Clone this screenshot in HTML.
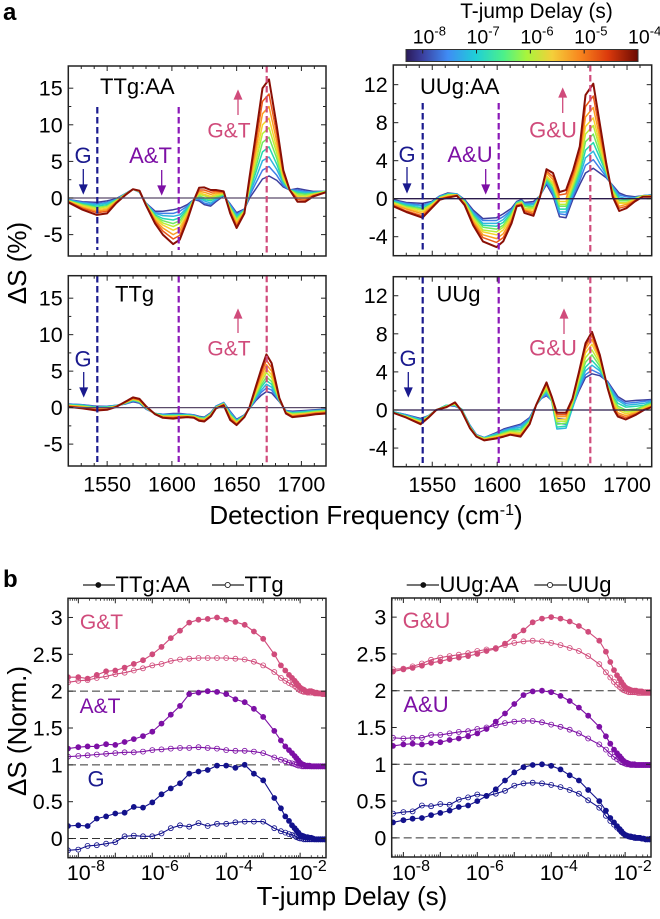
<!DOCTYPE html>
<html lang="en">
<head>
<meta charset="utf-8">
<title>T-jump spectra and kinetics</title>
<style>
html,body{margin:0;padding:0;background:#fff;}
svg{display:block;font-family:"Liberation Sans",Arial,sans-serif;}
</style>
</head>
<body>
<svg id="fig" xmlns="http://www.w3.org/2000/svg" width="660" height="919" viewBox="0 0 660 919">
<defs>
<linearGradient id="turbo" x1="0" x2="1" y1="0" y2="0">
<stop offset="0" stop-color="#2a1a58"/><stop offset="0.07" stop-color="#3b3f9e"/><stop offset="0.18" stop-color="#3f8cf5"/><stop offset="0.3" stop-color="#1fcfd8"/><stop offset="0.42" stop-color="#4cf08a"/><stop offset="0.52" stop-color="#a8f53c"/><stop offset="0.63" stop-color="#f4cf3a"/><stop offset="0.75" stop-color="#f8861e"/><stop offset="0.87" stop-color="#dc3a0c"/><stop offset="1" stop-color="#6a0a02"/>
</linearGradient>
</defs>
<text x="3" y="20" font-size="24" font-weight="bold">a</text>
<text x="3" y="587" font-size="24" font-weight="bold">b</text>
<text x="536.5" y="18" font-size="20.8" text-anchor="middle">T-jump Delay (s)</text>
<rect x="406" y="49.5" width="232" height="12" fill="url(#turbo)" stroke="#333" stroke-width="1"/>
<g id="colorbar-labels"></g>
<text transform="translate(26,263) rotate(-90)" font-size="26" text-anchor="middle">ΔS (%)</text>
<text x="366" y="524" font-size="26" text-anchor="middle">Detection Frequency (cm<tspan font-size="16" dy="-9">-1</tspan><tspan dy="9">)</tspan></text>
<text transform="translate(26,731) rotate(-90)" font-size="26" text-anchor="middle">ΔS (Norm.)</text>
<text x="352" y="905" font-size="26" text-anchor="middle">T-jump Delay (s)</text>
<g id="plots"></g>
<g font-size="22">
<text x="100" y="94">TTg:AA</text>
<text x="83" y="163" fill="#1a1a8e" text-anchor="middle">G</text>
<text x="150.5" y="163" fill="#7d10a5" text-anchor="middle">A&amp;T</text>
<text x="229" y="137.5" fill="#d04b7b" text-anchor="middle" font-size="21">G&amp;T</text>
<text x="420" y="94">UUg:AA</text>
<text x="407" y="162" fill="#1a1a8e" text-anchor="middle">G</text>
<text x="470" y="162" fill="#7d10a5" text-anchor="middle">A&amp;U</text>
<text x="553" y="137.5" fill="#d04b7b" text-anchor="middle">G&amp;U</text>
<text x="115" y="301.5">TTg</text>
<text x="83" y="366.5" fill="#1a1a8e" text-anchor="middle">G</text>
<text x="229" y="355.5" fill="#d04b7b" text-anchor="middle" font-size="21">G&amp;T</text>
<text x="436.5" y="301.5">UUg</text>
<text x="408" y="366" fill="#1a1a8e" text-anchor="middle">G</text>
<text x="553" y="355.5" fill="#d04b7b" text-anchor="middle">G&amp;U</text>
<text x="101.5" y="629" fill="#d04b7b" text-anchor="middle" font-size="21">G&amp;T</text>
<text x="100" y="713" fill="#7d10a5" text-anchor="middle" font-size="21">A&amp;T</text>
<text x="96" y="786.5" fill="#1a1a8e" text-anchor="middle">G</text>
<text x="426.5" y="628" fill="#d04b7b" text-anchor="middle">G&amp;U</text>
<text x="426" y="712" fill="#7d10a5" text-anchor="middle">A&amp;U</text>
<text x="420" y="786.5" fill="#1a1a8e" text-anchor="middle">G</text>
</g>
<g fill="none" stroke-width="1.3">
<g stroke="#1a1a8e"><path d="M83.3 169V189"/><path d="M79.8 185L83.3 193L86.8 185Z" fill="#1a1a8e"/></g>
<g stroke="#7d10a5"><path d="M161.7 170V190"/><path d="M158.2 186L161.7 194L165.2 186Z" fill="#7d10a5"/></g>
<g stroke="#d04b7b"><path d="M238 115V95"/><path d="M234.5 99L238 91L241.5 99Z" fill="#d04b7b"/></g>
<g stroke="#1a1a8e"><path d="M407 167V188"/><path d="M403.5 184L407 192L410.5 184Z" fill="#1a1a8e"/></g>
<g stroke="#7d10a5"><path d="M485.7 169V189"/><path d="M482.2 185L485.7 193L489.2 185Z" fill="#7d10a5"/></g>
<g stroke="#d04b7b"><path d="M562.7 113V93"/><path d="M559.2 97L562.7 89L566.2 97Z" fill="#d04b7b"/></g>
<g stroke="#1a1a8e"><path d="M83.7 372V392"/><path d="M80.2 388L83.7 396L87.2 388Z" fill="#1a1a8e"/></g>
<g stroke="#d04b7b"><path d="M238 333V314"/><path d="M234.5 318L238 310L241.5 318Z" fill="#d04b7b"/></g>
<g stroke="#1a1a8e"><path d="M408.3 372V392"/><path d="M404.8 388L408.3 396L411.8 388Z" fill="#1a1a8e"/></g>
<g stroke="#d04b7b"><path d="M564 334V314"/><path d="M560.5 318L564 310L567.5 318Z" fill="#d04b7b"/></g>
</g>
<g font-size="22">
<g><path d="M83 585H115" stroke="#222" stroke-width="1.2"/><circle cx="98.3" cy="585" r="2.9" fill="#111"/><text x="115.5" y="592">TTg:AA</text></g>
<g><path d="M212 585H244" stroke="#222" stroke-width="1.2"/><circle cx="227.7" cy="585" r="2.6" fill="#fff" stroke="#222" stroke-width="0.9"/><text x="244.5" y="592">TTg</text></g>
</g>
<g font-size="22">
<g><path d="M406.7 585H439" stroke="#222" stroke-width="1.2"/><circle cx="423.3" cy="585" r="2.9" fill="#111"/><text x="439.5" y="592">UUg:AA</text></g>
<g><path d="M534.3 585H567" stroke="#222" stroke-width="1.2"/><circle cx="550" cy="585" r="2.6" fill="#fff" stroke="#222" stroke-width="0.9"/><text x="567.5" y="592">UUg</text></g>
</g>
</svg>
<script>
// ---------- T-jump delay colours for the spectra, early to late ----------
const delayColors = ["#3c3f9e","#3f7fe8","#2fb5e0","#25d8b0","#6fe860","#b8ee38","#f5d22e","#fa9d22","#ec5a18","#8a0f05"];

// ---------- Spectra: TTg:AA ----------
const freqTTgAA = [1520,1531,1542,1550,1557,1564,1570,1575,1580,1587,1593,1601,1606,1612,1617,1621,1625,1630,1634,1640,1645,1650,1656,1660,1665,1670,1675,1681,1686,1691,1697,1703,1709,1719];
const spectraTTgAA = [
[-.2,-.5,-.6,-.4,-.1,.6,1.2,.8,-.7,-1.8,-1.8,-1.6,-1.4,-.9,-.2,-.4,-.9,-1.1,-.5,.3,-.8,-2,-1.5,0,1.3,2.6,3,2.4,1.5,1.1,1.3,1.1,.9,.9],
[-.2,-.6,-.8,-.6,-.2,.6,1.2,.8,-.7,-2,-2.1,-2.1,-1.8,-1.1,-.2,-.2,-.7,-.9,-.3,.4,-.9,-2.2,-1.6,.3,2.1,3.8,4.3,3.1,1.7,1.1,1.1,.9,.8,.9],
[-.3,-.7,-.9,-.7,-.2,.6,1.2,.8,-.8,-2.1,-2.4,-2.5,-2.3,-1.3,-.2,0,-.4,-.7,-.2,.4,-1.1,-2.4,-1.6,.6,2.8,5.1,5.6,3.9,2,1.1,.9,.8,.8,.9],
[-.3,-.8,-1.1,-.9,-.3,.5,1.2,.9,-.8,-2.3,-2.8,-3,-2.7,-1.5,-.2,.1,-.2,-.4,0,.5,-1.2,-2.6,-1.7,.9,3.6,6.3,7,4.6,2.2,1.1,.8,.6,.7,.9],
[-.4,-.9,-1.3,-1.1,-.3,.5,1.2,.9,-.8,-2.5,-3.1,-3.5,-3.1,-1.7,-.2,.3,0,-.2,.1,.5,-1.3,-2.8,-1.7,1.2,4.3,7.6,8.3,5.4,2.4,1.1,.6,.5,.6,.9],
[-.4,-1,-1.4,-1.2,-.4,.5,1.2,.9,-.8,-2.6,-3.4,-3.9,-3.5,-1.9,-.2,.5,.3,0,.3,.6,-1.4,-3,-1.8,1.4,5.1,8.8,9.6,6.1,2.6,1.1,.4,.3,.5,.9],
[-.4,-1.1,-1.6,-1.4,-.5,.5,1.2,.9,-.9,-2.8,-3.7,-4.4,-4,-2.2,-.2,.7,.5,.2,.5,.7,-1.6,-3.3,-1.9,1.7,5.9,10,10.9,6.8,2.9,1.1,.2,.1,.5,.8],
[-.5,-1.3,-1.8,-1.6,-.5,.5,1.2,.9,-.9,-3,-4.1,-5,-4.5,-2.4,-.3,.9,.8,.5,.7,.7,-1.7,-3.5,-1.9,2.1,6.8,11.5,12.5,7.7,3.2,1.1,0,-.1,.4,.8],
[-.5,-1.4,-2,-1.8,-.6,.4,1.2,1,-1,-3.2,-4.5,-5.6,-5.1,-2.7,-.3,1.1,1.1,.8,.9,.8,-1.9,-3.8,-2,2.5,7.8,13.2,14.2,8.7,3.5,1.1,-.2,-.3,.3,.8],
[-.6,-1.6,-2.3,-2.1,-.7,.4,1.2,1,-1,-3.5,-5,-6.3,-5.7,-3,-.3,1.4,1.45,1.1,1.1,.9,-2.1,-4.1,-2.1,2.9,8.9,15,16.2,9.8,3.8,1.1,-.5,-.5,.2,.8]
];

// ---------- Spectra: UUg:AA ----------
const freqUUgAA = [1520,1530,1542.5,1549.5,1556,1562,1569,1575,1581.5,1589,1599.5,1604.6,1611,1615,1618.7,1621,1628,1633,1638,1643,1648,1653,1658.5,1663.6,1668,1674,1679,1684,1689,1694,1699.5,1706,1712,1719];
const spectraUUgAA = [
[-.1,-.4,-.5,-.3,.3,.6,.5,-.1,-1.2,-2.1,-2,-1.6,-1,-.3,-.1,-.4,-.3,.3,1.5,.3,-1.9,-2,0,1.5,2.7,3.2,2.7,2.2,1.4,.6,.3,.2,.3,.4],
[-.2,-.5,-.7,-.4,.3,.5,.5,-.2,-1.4,-2.3,-2.3,-1.9,-1.2,-.4,-.2,-.5,-.5,.3,1.7,.5,-1.6,-1.7,.3,1.9,3.5,4.1,3.2,2.3,1.3,.4,.2,.1,.3,.4],
[-.2,-.6,-.8,-.4,.2,.5,.5,-.2,-1.5,-2.6,-2.6,-2.2,-1.3,-.4,-.2,-.6,-.6,.3,1.8,.8,-1.4,-1.4,.6,2.3,4.3,5,3.7,2.5,1.2,.2,0,.1,.3,.4],
[-.3,-.7,-1,-.5,.2,.5,.4,-.3,-1.7,-2.8,-2.9,-2.5,-1.5,-.4,-.3,-.7,-.8,.3,2,1,-1.1,-1.1,.9,2.7,5.1,5.9,4.3,2.7,1,0,-.1,0,.3,.3],
[-.4,-.8,-1.1,-.6,.1,.4,.4,-.3,-1.8,-3,-3.2,-2.8,-1.6,-.5,-.3,-.8,-.9,.3,2.1,1.3,-.8,-.8,1.2,3.1,6,6.8,4.8,2.8,.9,-.2,-.2,0,.3,.3],
[-.4,-.9,-1.2,-.6,.1,.4,.4,-.4,-2,-3.3,-3.5,-3,-1.8,-.6,-.4,-1,-1,.3,2.3,1.5,-.6,-.6,1.5,3.5,6.8,7.7,5.3,3,.8,-.4,-.4,0,.3,.3],
[-.5,-1,-1.4,-.7,.1,.3,.4,-.5,-2.2,-3.5,-3.8,-3.3,-2,-.6,-.5,-1.1,-1.2,.2,2.4,1.7,-.3,-.3,1.8,3.9,7.6,8.5,5.8,3.1,.6,-.5,-.5,-.1,.2,.3],
[-.6,-1.1,-1.6,-.8,0,.2,.4,-.5,-2.4,-3.8,-4.2,-3.7,-2.2,-.7,-.5,-1.2,-1.4,.2,2.7,2,0,0,2.2,4.4,8.6,9.6,6.4,3.3,.5,-.8,-.6,-.2,.2,.3],
[-.7,-1.3,-1.8,-.9,0,.2,.3,-.6,-2.6,-4.1,-4.6,-4.1,-2.4,-.7,-.6,-1.3,-1.6,.2,2.9,2.3,.4,.5,2.6,4.9,9.7,10.8,7.1,3.5,.3,-1,-.8,-.2,.2,.2],
[-.8,-1.4,-2,-1,-.1,.1,.3,-.7,-2.8,-4.5,-5.1,-4.5,-2.6,-.8,-.7,-1.5,-1.8,.2,3.1,2.7,.7,.9,3,5.5,10.9,12.1,7.9,3.7,.2,-1.3,-1,-.3,.2,.2]
];

// ---------- Spectra: TTg ----------
const freqTTg = [1520,1531,1542,1550,1557,1564,1570,1575,1580,1587,1593,1601,1606,1612,1617,1621,1625,1630,1634,1640,1645,1650,1656,1660,1665,1669,1673,1677,1683,1688,1693,1703,1711,1719];
const spectraTTg = [
[.5,.4,.2,.2,.3,.5,.8,.6,-.2,-.8,-.9,-.8,-.8,-.9,-1,-1.2,-1.3,-.7,.2,.7,-.5,-1.6,-1,-.1,1,1.7,2.2,2,.8,-.4,-.5,-.4,-.3,-.2],
[.5,.4,.1,.2,.3,.5,.9,.7,-.2,-.8,-.9,-.9,-.9,-.9,-1,-1.3,-1.4,-.8,.2,.7,-.6,-1.7,-1,-.1,1.2,2.1,2.7,2.4,.9,-.4,-.6,-.5,-.4,-.3],
[.4,.3,.1,.1,.3,.6,1,.8,-.1,-.8,-1,-1,-1,-1,-1.1,-1.3,-1.4,-.8,.1,.6,-.7,-1.8,-1.1,-.1,1.4,2.4,3.2,2.8,.9,-.5,-.7,-.5,-.4,-.3],
[.4,.3,0,.1,.2,.6,1,.8,-.1,-.8,-1.1,-1,-1,-1,-1.1,-1.4,-1.5,-.9,.1,.6,-.9,-1.8,-1.1,-.1,1.6,2.8,3.7,3.2,1,-.5,-.7,-.6,-.5,-.4],
[.3,.2,0,0,.2,.6,1.1,.8,0,-.8,-1.1,-1.1,-1.1,-1.1,-1.2,-1.4,-1.5,-.9,0,.5,-1,-1.9,-1.1,0,1.8,3.1,4.2,3.6,1,-.6,-.8,-.7,-.5,-.4],
[.3,.2,-.1,0,.2,.7,1.1,.9,0,-.9,-1.2,-1.2,-1.1,-1.1,-1.2,-1.5,-1.6,-1,0,.5,-1.1,-2,-1.2,0,2,3.5,4.8,4.1,1.1,-.6,-.9,-.8,-.6,-.5],
[.3,.1,-.1,-.1,.2,.7,1.2,1,0,-.9,-1.2,-1.2,-1.2,-1.2,-1.2,-1.6,-1.7,-1,0,.5,-1.2,-2.1,-1.2,0,2.2,3.9,5.3,4.5,1.1,-.6,-1,-.8,-.7,-.6],
[.2,.1,-.2,-.2,.2,.7,1.2,1,.1,-.9,-1.3,-1.3,-1.2,-1.2,-1.3,-1.6,-1.7,-1.1,-.1,.4,-1.3,-2.2,-1.2,0,2.5,4.3,5.9,5,1.2,-.7,-1.1,-.9,-.7,-.6],
[.2,0,-.3,-.2,.1,.8,1.3,1.1,.1,-.9,-1.3,-1.4,-1.3,-1.3,-1.4,-1.7,-1.8,-1.1,-.1,.4,-1.5,-2.3,-1.3,.1,2.7,4.8,6.5,5.5,1.2,-.7,-1.2,-1,-.8,-.7],
[.1,-.1,-.4,-.3,.1,.8,1.4,1.2,.2,-.9,-1.4,-1.5,-1.4,-1.3,-1.4,-1.8,-1.9,-1.2,-.1,.3,-1.7,-2.4,-1.3,.1,3,5.3,7.3,6.1,1.3,-.8,-1.3,-1.1,-.9,-.8]
];

// ---------- Spectra: UUg ----------
const freqUUg = [1520,1530,1541,1547,1553,1561,1567.5,1572.5,1579,1584,1590,1599,1605,1610,1618,1625,1630,1634,1638,1642,1646,1653,1658,1663,1668,1673,1679,1685,1690,1693,1699,1707,1713,1719];
const spectraUUg = [
[-.2,-.5,-.9,-.6,0,.5,.4,.1,-1.6,-2.6,-2.9,-2.4,-2,-1.8,-1.5,-.8,.5,1.2,1.5,1,-.9,-1,.3,2,3.4,3.8,3.6,3,2,1.4,.9,1,1.05,1.1],
[-.2,-.5,-1,-.6,0,.5,.4,.1,-1.6,-2.6,-2.9,-2.5,-2.1,-1.9,-1.6,-.9,.5,1.2,1.6,1,-1.4,-1.5,.2,2.2,3.7,4.2,3.8,2.9,1.8,1.2,.7,.8,.9,1],
[-.2,-.6,-1,-.6,0,.5,.5,.1,-1.7,-2.7,-2.9,-2.5,-2.2,-2,-1.8,-1,.5,1.3,1.8,.9,-2,-1.9,.2,2.4,4.1,4.7,4.1,2.8,1.6,1,.5,.6,.7,.9],
[-.2,-.6,-1.1,-.7,0,.5,.5,.1,-1.7,-2.7,-3,-2.6,-2.3,-2.1,-2,-1.1,.5,1.4,2,1,-1.8,-1.7,.4,2.7,4.5,5.2,4.3,2.7,1.3,.7,.3,.4,.5,.8],
[-.3,-.7,-1.2,-.7,0,.4,.6,0,-1.8,-2.7,-3,-2.7,-2.4,-2.2,-2.2,-1.2,.5,1.4,2.1,1,-1.5,-1.4,.6,3,5,5.8,4.6,2.6,1.1,.4,0,.1,.4,.7],
[-.3,-.7,-1.2,-.7,0,.4,.6,0,-1.8,-2.7,-3,-2.8,-2.5,-2.3,-2.4,-1.3,.5,1.5,2.3,1.2,-1.2,-1.2,.8,3.2,5.5,6.3,4.9,2.5,.8,.2,-.2,-.1,.3,.6],
[-.3,-.7,-1.3,-.7,0,.4,.7,0,-1.8,-2.8,-3.1,-2.8,-2.6,-2.4,-2.5,-1.4,.5,1.6,2.5,1.2,-1,-1,.9,3.5,6,6.9,5.2,2.4,.6,0,-.4,-.2,.2,.5],
[-.3,-.8,-1.4,-.8,0,.3,.7,0,-1.9,-2.8,-3.1,-2.9,-2.7,-2.5,-2.6,-1.4,.5,1.6,2.6,1.3,-.7,-.7,1,3.7,6.4,7.4,5.4,2.4,.4,-.3,-.6,-.3,.1,.4],
[-.3,-.8,-1.4,-.8,0,.3,.8,-.1,-1.9,-2.8,-3.2,-3,-2.8,-2.6,-2.7,-1.5,.5,1.7,2.8,1.4,-.5,-.5,1.1,3.8,6.7,7.8,5.6,2.3,.2,-.5,-.8,-.4,0,.3],
[-.3,-.8,-1.5,-.8,0,.3,.8,-.1,-1.9,-2.8,-3.2,-3,-2.8,-2.6,-2.8,-1.5,.5,1.7,2.9,1.4,-.3,-.3,1.2,4,7,8.2,5.8,2.3,0,-.7,-1,-.5,0,.3]
];

// ---------- Kinetics: log10(delay / s), shared by all traces ----------
const logDelay = [-8.28,-8,-7.75,-7.5,-7.25,-7,-6.75,-6.5,-6.25,-6,-5.75,-5.5,-5.25,-5,-4.75,-4.5,-4.25,-4,-3.75,-3.5,-3.25,-3,-2.7,-2.52,-2.4,-2.3,-2.22,-2.15,-2.1,-2.05,-2,-1.95,-1.9,-1.85,-1.8,-1.75,-1.7,-1.65,-1.6,-1.55,-1.5,-1.45,-1.4,-1.35,-1.3];

const ttgAA_GT = [2.19,2.19,2.17,2.22,2.27,2.28,2.32,2.37,2.42,2.5,2.6,2.72,2.82,2.93,2.97,2.98,3,2.97,2.94,2.9,2.81,2.71,2.5,2.35,2.28,2.22,2.18,2.14,2.11,2.08,2.05,2.03,2.02,2,1.99,2,2,1.99,1.98,1.98,1.97,1.97,1.96,1.96,1.96];
const ttg_GT = [2.12,2.14,2.15,2.18,2.2,2.23,2.25,2.28,2.31,2.35,2.37,2.41,2.43,2.44,2.45,2.45,2.45,2.45,2.44,2.43,2.4,2.35,2.26,2.18,2.14,2.11,2.09,2.07,2.05,2.03,2.01,2,1.99,1.99,1.98,1.98,1.98,1.98,1.97,1.97,1.97,1.97,1.97,1.97,1.97];
const ttgAA_AT = [1.22,1.24,1.25,1.25,1.28,1.27,1.31,1.35,1.39,1.45,1.56,1.68,1.8,1.96,1.98,2,1.99,1.96,1.89,1.85,1.76,1.65,1.46,1.33,1.25,1.2,1.16,1.12,1.09,1.06,1.03,1.01,1,.99,.99,.99,.98,.98,.98,.98,.98,.98,.98,.98,.98];
const ttg_AT = [1.11,1.12,1.13,1.14,1.15,1.16,1.17,1.17,1.18,1.2,1.21,1.22,1.23,1.23,1.24,1.23,1.22,1.2,1.19,1.19,1.18,1.16,1.1,1.07,1.05,1.03,1.02,1.01,1,.99,.99,.98,.98,.98,.98,.98,.98,.98,.98,.98,.98,.98,.98,.98,.98];
const ttgAA_G = [.17,.18,.17,.27,.3,.34,.35,.43,.42,.49,.6,.68,.75,.88,.91,.93,.99,.99,.96,1,.88,.79,.55,.41,.3,.24,.18,.14,.11,.08,.05,.04,.03,.02,.02,.01,.01,0,-.01,-.01,-.01,-.01,-.01,-.01,-.01];
const ttg_G = [-.16,-.15,-.1,-.09,-.07,-.05,.03,.04,.03,.03,.07,.14,.18,.16,.21,.17,.2,.2,.22,.23,.23,.23,.14,.1,.08,.06,.05,.04,.02,.01,0,0,-.01,-.01,-.01,-.01,-.01,-.01,-.01,-.01,-.01,-.01,-.01,-.01,-.01];

const uugAA_GU = [2.26,2.29,2.31,2.34,2.38,2.4,2.43,2.45,2.47,2.5,2.54,2.57,2.64,2.74,2.82,2.93,2.98,3,2.98,2.94,2.88,2.8,2.68,2.53,2.39,2.28,2.21,2.16,2.12,2.08,2.05,2.03,2.02,2.01,2,2,2,1.99,1.99,1.99,1.98,1.98,1.98,1.98,1.98];
const uug_GU = [2.29,2.3,2.33,2.37,2.42,2.45,2.47,2.49,2.51,2.54,2.56,2.58,2.62,2.65,2.67,2.68,2.67,2.65,2.62,2.58,2.54,2.47,2.36,2.25,2.18,2.12,2.08,2.05,2.03,2.01,2,1.99,1.98,1.98,1.98,1.98,1.98,1.97,1.97,1.97,1.97,1.97,1.97,1.97,1.97];
const uugAA_AU = [1.25,1.27,1.28,1.27,1.29,1.3,1.33,1.35,1.38,1.42,1.48,1.58,1.69,1.82,1.94,1.99,2,1.98,1.93,1.86,1.77,1.66,1.51,1.38,1.28,1.2,1.15,1.11,1.08,1.05,1.03,1.02,1.01,1,1,1,.99,.99,.99,.99,.99,.99,.99,.99,.99];
const uug_AU = [1.36,1.35,1.36,1.36,1.4,1.4,1.42,1.44,1.45,1.48,1.5,1.53,1.56,1.58,1.59,1.59,1.57,1.54,1.51,1.47,1.42,1.35,1.27,1.2,1.14,1.1,1.07,1.05,1.03,1.02,1.01,1,1,.99,.99,.99,.99,.99,.99,.99,.99,.99,.99,.99,.99];
const uugAA_G = [.21,.24,.26,.27,.31,.34,.37,.42,.44,.5,.57,.66,.78,.89,.96,.99,1,.98,.93,.85,.78,.65,.5,.37,.27,.21,.16,.12,.09,.06,.04,.03,.02,.02,.01,.01,0,0,0,-.01,-.01,-.02,-.02,-.02,-.01];
const uug_G = [.33,.35,.36,.44,.43,.46,.45,.52,.55,.59,.57,.6,.64,.71,.74,.75,.74,.72,.69,.65,.6,.51,.41,.3,.23,.18,.14,.11,.08,.06,.04,.03,.02,.01,.01,0,0,0,0,-.01,-.01,-.02,-.02,-.02,-.01];

// ---------- Tick labels ----------
const freqTicks = [1550,1600,1650,1700];
const percentTicksT = [-5,0,5,10,15];
const percentTicksU = [-4,0,4,8,12];
const normTicks = ["0","0.5","1","1.5","2","2.5","3"];
const delayExponents = [-8,-6,-4,-2];
const colorbarExponents = [-8,-7,-6,-5,-4];

const NS = "http://www.w3.org/2000/svg";
const plotsRoot = document.getElementById("plots");
function el(tag, parent){
  const n = document.createElementNS(NS, tag);
  parent.appendChild(n);
  return n;
}
function scale(d0,d1,r0,r1){
  return function(v){ return r0 + (v-d0)/(d1-d0)*(r1-r0); };
}
function tickLabel(parent,x,y,str,anchor,name){
  const t = el("text",parent);
  
  
  t.setAttribute("x",x);
  t.setAttribute("y",y);
  t.setAttribute("font-size","21.5");
  t.setAttribute("text-anchor",anchor);
  t.textContent = str;
  return t;
}
function powerLabel(parent,x,y,exp,name,size,supSize,rise){
  const t = tickLabel(parent,x,y,"10","start",name);
  t.setAttribute("font-size",size);
  const s = el("tspan",t);
  s.setAttribute("font-size",supSize);
  s.setAttribute("dy",-rise);
  s.textContent = String(exp);
  return t;
}
function tick(parent,x1,y1,x2,y2,w){
  const l = el("line",parent);
  
  
  l.setAttribute("x1",x1); l.setAttribute("y1",y1);
  l.setAttribute("x2",x2); l.setAttribute("y2",y2);
  l.setAttribute("stroke","#222");
  l.setAttribute("stroke-width",w);
}
function frame(parent,b){
  const r = el("rect",parent);
  
  
  r.setAttribute("x",b.l); r.setAttribute("y",b.t);
  r.setAttribute("width",b.r-b.l); r.setAttribute("height",b.b-b.t);
  r.setAttribute("fill","none");
  r.setAttribute("stroke","#222");
  r.setAttribute("stroke-width","1.5");
}
let clipId = 0;
function clipFor(parent,b){
  const id = "clip"+(clipId++);
  const c = el("clipPath",parent);
  c.setAttribute("id",id);
  const r = el("rect",c);
  r.setAttribute("x",b.l); r.setAttribute("y",b.t);
  r.setAttribute("width",b.r-b.l); r.setAttribute("height",b.b-b.t);
  return id;
}
function vdash(parent,x,y0,y1,color,name){
  const l = el("line",parent);
  
  
  l.setAttribute("x1",x); l.setAttribute("x2",x);
  l.setAttribute("y1",y0); l.setAttribute("y2",y1);
  l.setAttribute("stroke",color);
  l.setAttribute("stroke-width","2.2");
  l.setAttribute("stroke-dasharray","6.5 3.5");
}
function spectraPanel(o){
  const g = el("g",plotsRoot);
  
  
  const X = scale(1520,1719,o.box.l,o.box.r);
  const Y = scale(o.yMin,o.yMax,o.box.b,o.box.t);
  const cg = el("g",g);
  cg.setAttribute("clip-path","url(#"+clipFor(g,o.box)+")");
  o.rows.forEach(function(row,i){
    const p = el("polyline",cg);
    
    
    p.setAttribute("points",row.map(function(v,j){return X(o.freq[j]).toFixed(1)+","+Y(v).toFixed(1);}).join(" "));
    p.setAttribute("fill","none");
    p.setAttribute("stroke",delayColors[i]);
    p.setAttribute("stroke-width",i===o.rows.length-1?"2":"1.5");
    p.setAttribute("stroke-linejoin","round");
  });
  const z = el("line",g);
  
  
  z.setAttribute("x1",o.box.l); z.setAttribute("x2",o.box.r);
  z.setAttribute("y1",Y(0)); z.setAttribute("y2",Y(0));
  z.setAttribute("stroke",o.zeroColor);
  z.setAttribute("stroke-width","1.3");
  vdash(g,o.dash[0],o.dashTop,o.dashBottom,"#1a1a8e","guide-g");
  vdash(g,o.dash[1],o.dashTop,o.dashBottom,"#8a18b8","guide-a");
  vdash(g,o.dash[2],o.box.t,o.box.b-2,"#d04b7b","guide-gx");
  for(let f=1530;f<=1710;f+=10){
    const major = f%50===0;
    const len = major?5:3;
    tick(g,X(f),o.box.b,X(f),o.box.b-len,1);
    tick(g,X(f),o.box.t,X(f),o.box.t+len,1);
  }
  if(o.showX){
    freqTicks.forEach(function(f){ tickLabel(g,X(f),o.box.b+25.5,String(f),"middle","x-tick-label"); });
  }
  o.yTicks.forEach(function(v,i){
    tick(g,o.box.l,Y(v),o.box.l+5,Y(v),1);
    tick(g,o.box.r,Y(v),o.box.r-5,Y(v),1);
    tickLabel(g,o.box.l-5.6,Y(v)+7.5,String(v),"end","y-tick-label");
    if(i<o.yTicks.length-1){
      const m = (v+o.yTicks[i+1])/2;
      tick(g,o.box.l,Y(m),o.box.l+3,Y(m),1);
      tick(g,o.box.r,Y(m),o.box.r-3,Y(m),1);
    }
  });
  frame(g,o.box);
}
function tracePath(g,X,Y,vals,color,filled){
  const p = el("polyline",g);
  
  
  p.setAttribute("points",vals.map(function(v,j){return X(logDelay[j]).toFixed(1)+","+Y(v).toFixed(1);}).join(" "));
  p.setAttribute("fill","none");
  p.setAttribute("stroke",color);
  p.setAttribute("stroke-width","1.1");
  vals.forEach(function(v,j){
    const c = el("circle",g);
    
    
    c.setAttribute("cx",X(logDelay[j]).toFixed(1));
    c.setAttribute("cy",Y(v).toFixed(1));
    c.setAttribute("r",filled?"2.9":"2.5");
    c.setAttribute("fill",filled?color:"none");
    c.setAttribute("stroke",color);
    c.setAttribute("stroke-width",filled?"0":"0.8");
  });
}
function kineticsPanel(o){
  const g = el("g",plotsRoot);
  
  
  const X = scale(o.xMin,-1.3,o.box.l,o.box.r);
  const Y = scale(-.26,3.26,o.box.b,o.box.t);
  [0,1,2].forEach(function(v){
    const l = el("line",g);
    
    
    l.setAttribute("x1",o.box.l); l.setAttribute("x2",o.box.r);
    l.setAttribute("y1",Y(v)); l.setAttribute("y2",Y(v));
    l.setAttribute("stroke","#333");
    l.setAttribute("stroke-width","1");
    l.setAttribute("stroke-dasharray","8 4");
  });
  const cg = el("g",g);
  cg.setAttribute("clip-path","url(#"+clipFor(g,o.box)+")");
  o.traces.forEach(function(t){ tracePath(cg,X,Y,t.v,t.c,t.f); });
  const minors = [2,3,4,5,6,7,8,9];
  for(let d=-9;d<=-2;d++){
    minors.forEach(function(m){
      const lx = d+Math.log10(m);
      if(lx>o.xMin && lx<-1.3){
        tick(g,X(lx),o.box.b,X(lx),o.box.b-2.5,.8);
        tick(g,X(lx),o.box.t,X(lx),o.box.t+2.5,.8);
      }
    });
  }
  for(let d=-8;d<=-2;d++){
    tick(g,X(d),o.box.b,X(d),o.box.b-5,1);
    tick(g,X(d),o.box.t,X(d),o.box.t+5,1);
  }
  delayExponents.forEach(function(e){
    powerLabel(g,X(e)-11.5,880,e,"x-tick-label",21.5,16,9);
  });
  normTicks.forEach(function(s){
    const v = parseFloat(s);
    tick(g,o.box.l,Y(v),o.box.l+5,Y(v),1);
    tick(g,o.box.r,Y(v),o.box.r-5,Y(v),1);
    tickLabel(g,o.box.l-5.3,Y(v)+7.5,s,"end","y-tick-label");
  });
  frame(g,o.box);
}

spectraPanel({name:"spectra-ttg-aa",box:{l:68.3,r:326,t:66,b:256},yMin:-7.92,yMax:18.03,freq:freqTTgAA,rows:spectraTTgAA,yTicks:percentTicksT,dash:[97.3,178.7,266.7],dashTop:107,dashBottom:250,zeroColor:"#5a4a6a",showX:false});
spectraPanel({name:"spectra-uug-aa",box:{l:393.3,r:651.7,t:65,b:255.7},yMin:-6,yMax:14.07,freq:freqUUgAA,rows:spectraUUgAA,yTicks:percentTicksU,dash:[422.7,498.7,590.3],dashTop:103,dashBottom:253,zeroColor:"#2a1a4a",showX:false});
spectraPanel({name:"spectra-ttg",box:{l:68.3,r:326,t:275.7,b:466},yMin:-8,yMax:18.08,freq:freqTTg,rows:spectraTTg,yTicks:percentTicksT,dash:[97.3,178.7,266.7],dashTop:276,dashBottom:462,zeroColor:"#5a4a6a",showX:true});
spectraPanel({name:"spectra-uug",box:{l:393.3,r:651.7,t:276.7,b:466.7},yMin:-5.96,yMax:14,freq:freqUUg,rows:spectraUUg,yTicks:percentTicksU,dash:[422.7,498.7,590.3],dashTop:277,dashBottom:463,zeroColor:"#2a1a4a",showX:true});

const colPink = "#d04b7b", colPurple = "#7d10a5", colNavy = "#13128c";
kineticsPanel({name:"kinetics-ttg",box:{l:68,r:326,t:598.3,b:857.7},xMin:-8.28,traces:[
  {v:ttg_G,c:colNavy,f:false},{v:ttgAA_G,c:colNavy,f:true},
  {v:ttg_AT,c:colPurple,f:false},{v:ttgAA_AT,c:colPurple,f:true},
  {v:ttg_GT,c:colPink,f:false},{v:ttgAA_GT,c:colPink,f:true}]});
kineticsPanel({name:"kinetics-uug",box:{l:391.7,r:651,t:598,b:857},xMin:-8.316,traces:[
  {v:uug_G,c:colNavy,f:false},{v:uugAA_G,c:colNavy,f:true},
  {v:uug_AU,c:colPurple,f:false},{v:uugAA_AU,c:colPurple,f:true},
  {v:uug_GU,c:colPink,f:false},{v:uugAA_GU,c:colPink,f:true}]});

const cbLabels = document.getElementById("colorbar-labels");
const cbX = scale(-8,-4,422.7,638);
colorbarExponents.forEach(function(e){
  powerLabel(cbLabels,cbX(e)-10,43.3,e,"colorbar-tick-label",19.5,13,8);
  if(e<-4){
    tick(cbLabels,cbX(e),50,cbX(e),53.5,1);
  }
});
</script>
</body>
</html>
